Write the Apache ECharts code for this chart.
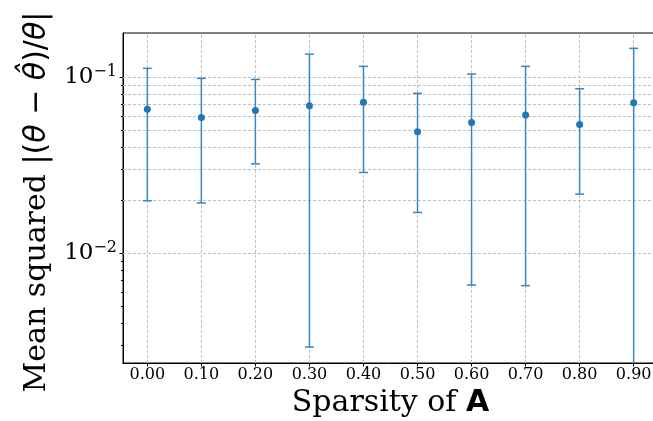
<!DOCTYPE html>
<html>
<head>
<meta charset="utf-8">
<script src="https://cdn.jsdelivr.net/npm/echarts@6/dist/echarts.min.js"></script>
<style>
  html, body { margin: 0; padding: 0; background: #fff; }
  #chart { width: 653px; height: 421px; }
</style>
</head>
<body>
<div id="chart"></div>
<script>
// sparsity levels and measured values
const sparsity = [0.0, 0.1, 0.2, 0.3, 0.4, 0.5, 0.6, 0.7, 0.8, 0.9];
const means = [0.0657, 0.0589, 0.0646, 0.0687, 0.0718, 0.0489, 0.0552, 0.0608, 0.0538, 0.0714];
const upper = [0.1121, 0.0983, 0.0970, 0.135, 0.115, 0.0808, 0.104, 0.115, 0.0858, 0.1456];
const lower = [0.0198, 0.01925, 0.0321, 0.00292, 0.0287, 0.0170, 0.00658, 0.00652, 0.0216, -0.0028];

const yMajor = [0.01, 0.1];
const yMinor = [0.003, 0.004, 0.005, 0.006, 0.007, 0.008, 0.009,
  0.02, 0.03, 0.04, 0.05, 0.06, 0.07, 0.08, 0.09];
const yMin = 0.00237, yMax = 0.178;

const blue = '#1f77b4';
const barBlue = '#3a86bf';
const serif = 'DejaVu Serif';
const sans = 'DejaVu Sans';

const chart = echarts.init(document.getElementById('chart'));

const gridStyle = { color: '#c0c0c0', width: 1, type: [3, 2] };

chart.setOption({
  animation: false,
  backgroundColor: '#fff',
  grid: {
    left: 123, top: 33, right: -5, bottom: 58,
    show: true, borderColor: '#000', borderWidth: 1,
    outerBoundsMode: 'none'
  },
  xAxis: {
    type: 'value',
    min: -0.045, max: 0.945,
    axisLine: { onZero: false, lineStyle: { color: '#000', width: 1 } },
    axisTick: { customValues: sparsity, length: 3.5, lineStyle: { color: '#000' } },
    axisLabel: {
      customValues: sparsity,
      formatter: v => v.toFixed(2),
      fontFamily: serif, fontSize: 16, color: '#000', margin: 4
    },
    splitLine: { show: false },
    name: '{a|Sparsity of }{b|A}',
    nameLocation: 'middle',
    nameGap: 23,
    nameTextStyle: {
      rich: {
        a: { fontFamily: serif, fontSize: 30, color: '#000' },
        b: { fontFamily: sans, fontWeight: 'bold', fontSize: 30, color: '#000' }
      }
    }
  },
  yAxis: [
    {
      type: 'log', logBase: 10,
      min: yMin, max: yMax,
      axisLine: { show: true, onZero: false, lineStyle: { color: '#000', width: 1 } },
      axisTick: { customValues: yMajor, length: 3.5, lineStyle: { color: '#000' } },
      axisLabel: {
        customValues: yMajor,
        margin: 6,
        formatter: v => '{b|10}{s|\u2212' + Math.round(-Math.log10(v)) + '}',
        rich: {
          b: { fontFamily: serif, fontSize: 23, lineHeight: 27, color: '#000' },
          s: { fontFamily: serif, fontSize: 16, lineHeight: 16, verticalAlign: 'top', color: '#000' }
        }
      },
      splitLine: { show: false }
    },
    {
      type: 'log', logBase: 10,
      min: yMin, max: yMax,
      position: 'left',
      axisLine: { show: false, onZero: false },
      axisTick: { customValues: yMinor, length: 2, lineStyle: { color: '#000' } },
      axisLabel: { show: false },
      splitLine: { show: false }
    }
  ],
  graphic: [{
    type: 'text',
    x: 37, y: 202,
    rotation: Math.PI / 2,
    style: {
      text: '{s|Mean squared }{m||(}{i|\u03b8}{m| \u2212 }{i|\u03b8\u0302}{m|)/}{i|\u03b8}{m||}',
      align: 'center',
      verticalAlign: 'middle',
      rich: {
        s: { fontFamily: serif, fontSize: 30, fill: '#000' },
        m: { fontFamily: sans, fontSize: 30, fill: '#000' },
        i: { fontFamily: sans, fontStyle: 'italic', fontSize: 30, fill: '#000' }
      }
    }
  }],
  series: [
    {
      // grid lines
      type: 'scatter',
      data: [],
      z: 1,
      silent: true,
      markLine: {
        silent: true,
        symbol: 'none',
        label: { show: false },
        lineStyle: gridStyle,
        emphasis: { disabled: true },
        data: [
          ...yMajor.concat(yMinor).map(v => ({ yAxis: v })),
          ...sparsity.map(v => ({ xAxis: v }))
        ]
      }
    },
    {
      // error bars
      type: 'custom',
      z: 10,
      silent: true,
      encode: { x: 0, y: 1 },
      data: sparsity.map((x, i) => [x, means[i], lower[i], upper[i]]),
      renderItem: (params, api) => {
        const x = api.value(0);
        const lo = api.value(2);
        const hi = api.value(3);
        const top = api.coord([x, hi]);
        const bot = api.coord([x, Math.max(lo, yMin)]);
        const style = { stroke: barBlue, lineWidth: 1.5 };
        const children = [
          { type: 'line', shape: { x1: top[0], y1: top[1], x2: bot[0], y2: bot[1] }, style },
          { type: 'line', shape: { x1: top[0] - 4.5, y1: top[1], x2: top[0] + 4.5, y2: top[1] }, style }
        ];
        if (lo >= yMin) {
          children.push({ type: 'line', shape: { x1: bot[0] - 4.5, y1: bot[1], x2: bot[0] + 4.5, y2: bot[1] }, style });
        }
        return { type: 'group', children };
      }
    },
    {
      type: 'scatter',
      z: 11,
      symbolSize: 7,
      itemStyle: { color: blue, opacity: 1, borderWidth: 0 },
      data: sparsity.map((x, i) => [x, means[i]])
    }
  ]
});
</script>
</body>
</html>
